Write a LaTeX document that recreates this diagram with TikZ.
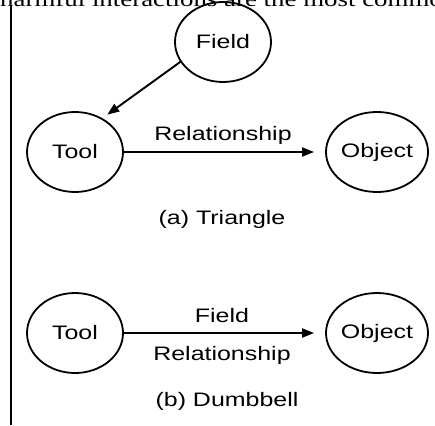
\documentclass[tikz,border=0pt]{standalone}
\usepackage{fontspec}
\setmainfont{Liberation Serif}
\setsansfont{Liberation Sans}
\usetikzlibrary{shapes.geometric,arrows.meta}
\newcommand{\wtext}[1]{\scalebox{1.28}[1]{#1}}
\tikzset{
	bubble/.style={draw,ellipse,line width=1.8pt,minimum width=96pt,minimum height=80pt,inner sep=0pt,font=\sffamily\fontsize{19.5}{22}\selectfont},
	txt/.style={font=\sffamily\fontsize{19.5}{22}\selectfont,inner sep=0pt,anchor=base},
	link/.style={line width=1.9pt,-{Triangle[length=12pt,width=9pt]}}
}
\begin{document}
\begin{tikzpicture}[x=1pt,y=-1pt]
		\useasboundingbox (0,0) rectangle (435,425);
		\clip (0,0) rectangle (435,425);
		\node [anchor=base west,inner sep=0pt,font=\fontsize{21}{24}\selectfont] at (0,6.5) (cut) {\wtext{harmful interactions are the most commo}};
		\draw [line width=2pt] (11,5) -- (11,425);
		\node [bubble] at (223,42) (field) {\wtext{Field}};
		\node [bubble] at (75,152) (tool) {\wtext{Tool}};
		\node [bubble] at (377,152) (object) {\wtext{Object}};
		\draw [link,shorten >=6pt] (field.205) -- (tool.51);
		\draw [link,shorten >=11pt] (tool) -- (object);
		\node [txt] at (223,140) (rel) {\wtext{Relationship}};
		\node [txt] at (222,224) (capa) {\wtext{(a) Triangle}};
		\node [bubble] at (75,333) (tool2) {\wtext{Tool}};
		\node [bubble] at (377,333) (object2) {\wtext{Object}};
		\draw [link,shorten >=11pt] (tool2) -- (object2);
		\node [txt] at (222,322) (field2) {\wtext{Field}};
		\node [txt] at (222,360) (rel2) {\wtext{Relationship}};
		\node [txt] at (227,406) (capb) {\wtext{(b) Dumbbell}};
	\end{tikzpicture}
\end{document}
